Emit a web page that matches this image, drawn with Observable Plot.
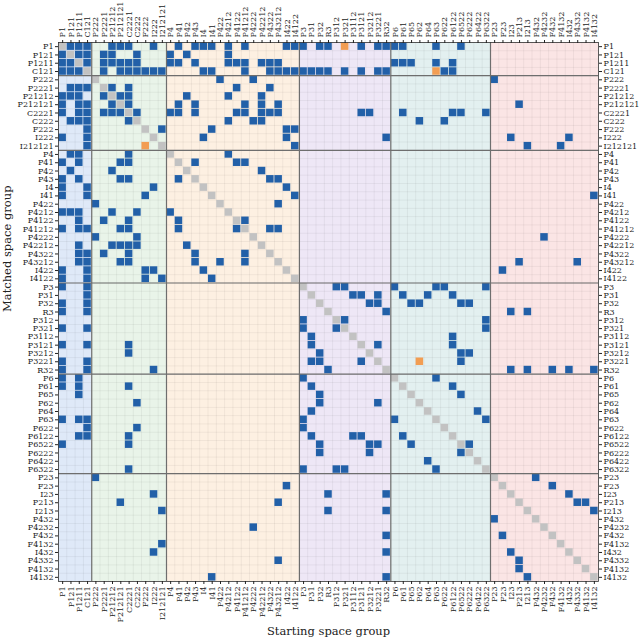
<!DOCTYPE html>
<html>
<head>
<meta charset="utf-8">
<script src="https://cdn.jsdelivr.net/npm/d3@7"></script>
<script src="https://cdn.jsdelivr.net/npm/@observablehq/plot@0.6"></script>
<style>
  html, body { margin: 0; padding: 0; background: #fff; }
  #chart svg { display: block; }
</style>
</head>
<body>
<div id="chart"></div>
<script>
// Space groups in axis order
const groups = ["P1","P121","P1211","C121","P222","P2221","P21212","P212121","C2221","C222","F222","I222","I212121",
  "P4","P41","P42","P43","I4","I41","P422","P4212","P4122","P41212","P4222","P42212","P4322","P43212","I422","I4122",
  "P3","P31","P32","R3","P312","P321","P3112","P3121","P3212","P3221","R32",
  "P6","P61","P65","P62","P64","P63","P622","P6122","P6522","P6222","P6422","P6322",
  "P23","F23","I23","P213","I213","P432","P4232","F432","F4132","I432","P4332","P4132","I4132"];

// Crystal-system blocks (count of groups in each) and their band colours
const systemSizes = [4, 9, 16, 11, 12, 13];
const systemColors = ["#dfe9f8", "#e9f4e9", "#fdf0e2", "#eee7f6", "#e3f0f0", "#fbe5e5"];

// Blue cells: matched space group -> starting space groups
const blueMatches = [
  ["P1", "P121 P1211 C121 P21212 P212121 C2221 I222 P41 P43 I4 I41 P4212 P41212 I422 I4122 P3 P32 R3 P3121 P3221 R32 P6 P61 P63 P6522"],
  ["P121", "P1 P1211 C121 P2221 P21212 C222 P4 P42 P4212"],
  ["P1211", "P1 P121 C121 P2221 P21212 P212121 C2221 C222 P4 P41 P43 P4212 P4122 P41212 P42212 P4322 P43212 P6 P61 P65 P63 P6122"],
  ["C121", "P1 P121 P1211 P2221 P212121 C2221 C222 F222 I222 I212121 I4 I41 P41212 P4322 P43212 I422 I4122 P3 P31 P32 R3 P321 P3121 P3221 R32 P622 P6122"],
  ["P222", "P422 P4222 P23"],
  ["P2221", "P121 P1211 C121 P21212 C2221 P4122 P4322"],
  ["P21212", "P1 P121 P1211 P2221 P212121 C2221 P42 P4212 P42212"],
  ["P212121", "P1 P1211 C121 P21212 C2221 P41 P43 P41212 P42212 P43212 P213"],
  ["C2221", "P1 P1211 C121 P2221 P21212 P212121 C222 P4 P41 P43 P4122 P41212 P42212 P4322 P43212 P3121 P3212 P61 P6122 P6522 P6322"],
  ["C222", "P121 P1211 C121 C2221 P4212 P4222 P42212 P62 P622"],
  ["F222", "C121 I212121 I41 I422 I4122"],
  ["I222", "P1 C121 I4 I422 R32 I23 I432"],
  ["I212121", "C121 I4122 I213 F4132"],
  ["P4", "P121 P1211 C2221 P4212"],
  ["P41", "P1 P1211 P212121 C2221 P43 P4122 P41212"],
  ["P42", "P121 P21212 P42212"],
  ["P43", "P1 P1211 P212121 C2221 P41 P4322 P43212"],
  ["I4", "P1 C121 I222 I422"],
  ["I41", "P1 C121 F222 I4122 I4132"],
  ["P422", "P222 P43212"],
  ["P4212", "P1 P121 P1211 P21212 C222 P4"],
  ["P4122", "P1211 P2221 C2221 P41 P41212"],
  ["P41212", "P1 P1211 C121 P212121 C2221 P41 P4122 P4322 P43212"],
  ["P4222", "P222 C222 P4232"],
  ["P42212", "P1211 P21212 P212121 C2221 C222 P42"],
  ["P4322", "P1211 C121 P2221 C2221 P43 P41212"],
  ["P43212", "P1211 C121 P212121 C2221 P43 P422 P41212 P213 P4332"],
  ["I422", "P1 C121 F222 I222 I4 F23"],
  ["I4122", "P1 C121 F222 I212121 I41"],
  ["P3", "P1 C121 P312 P321 P6 P63 P622 P6322"],
  ["P31", "C121 P3112 P3121 P3221 P61 P64 P6122"],
  ["P32", "P1 C121 P3212 P3221 P65 P62 P6522 P6222"],
  ["R3", "P1 C121 R32 I23 I213"],
  ["P312", "P3 P321 P6322"],
  ["P321", "P1 C121 P3 P312 P6322"],
  ["P3112", "P31 P6122"],
  ["P3121", "P1 C121 C2221 P31 P3221 P6122"],
  ["P3212", "C2221 P32 P6522 P6222"],
  ["P3221", "P1 C121 P31 P32 P3121 P6522"],
  ["R32", "P1 C121 I222 R3 I23 I213 F432 I432 I4132"],
  ["P6", "P1 P1211 P3 P63"],
  ["P61", "P1 P1211 C2221 P31 P6122"],
  ["P65", "P1211 P32 P6522"],
  ["P62", "C222 P32 P3221"],
  ["P64", "P31 P6422"],
  ["P63", "P1 P1211 C121 P3 P6 P6322"],
  ["P622", "C121 C222 P3"],
  ["P6122", "P1211 C121 C2221 P31 P3112 P3121 P61"],
  ["P6522", "P1 C2221 P32 P3212 P3221 P65 P6222"],
  ["P6222", "P32 P3212 P6522"],
  ["P6422", "P64"],
  ["P6322", "C2221 P3 P312 P321 P63"],
  ["P23", "P222 P432"],
  ["F23", "I422 F432"],
  ["I23", "I222 R3 R32 I432"],
  ["P213", "P212121 P43212 P4332 P4132"],
  ["I213", "I212121 R3 R32 I4132"],
  ["P432", "P23"],
  ["P4232", "P4222"],
  ["F432", "R32 F23"],
  ["F4132", "I212121"],
  ["I432", "I222 R32 I23"],
  ["P4332", "P43212 P213"],
  ["P4132", "P213"],
  ["I4132", "I41 R32 I213"]
];

// Orange cells: [matched, starting]
const orangeMatches = [["P1", "P321"], ["C121", "P63"], ["I212121", "F222"], ["P3221", "P62"]];

// ---- derived tables ----
const n = groups.length;
const idx = new Map(groups.map((g, i) => [g, i]));
const blueCells = blueMatches.flatMap(([m, s]) => s.split(" ").map(st => ({r: idx.get(m), c: idx.get(st)})));
const orangeCells = orangeMatches.map(([m, s]) => ({r: idx.get(m), c: idx.get(s)}));
const diagCells = groups.map((g, i) => ({r: i, c: i}));
const starts = d3.cumsum([0, ...systemSizes]);
const bands = systemSizes.map((s, k) => ({x1: starts[k], x2: starts[k] + s, fill: systemColors[k]}));
const innerBounds = Array.from(starts).slice(1, -1);
const edges = d3.range(n + 1);
const centers = groups.map((g, i) => i + 0.5);
const fmt = d => groups[Math.floor(d)];

const cellOpts = {x1: "c", x2: d => d.c + 1, y1: "r", y2: d => d.r + 1, inset: 0.4};
const FS = 8;

const chart = Plot.plot({
  width: 640,
  height: 639,
  marginLeft: 58,
  marginRight: 42,
  marginTop: 42,
  marginBottom: 58,
  style: {fontFamily: "'DejaVu Serif', serif", fontSize: FS + "px", background: "#fff", color: "#222"},
  x: {domain: [0, n], axis: null},
  y: {domain: [n, 0], axis: null},
  marks: [
    Plot.rect(bands, {x1: "x1", x2: "x2", y1: () => 0, y2: () => n, fill: "fill"}),
    Plot.ruleX(edges, {stroke: "#000", strokeOpacity: 0.08, strokeWidth: 0.7}),
    Plot.ruleY(edges, {stroke: "#000", strokeOpacity: 0.08, strokeWidth: 0.7}),
    Plot.rect(diagCells, {...cellOpts, fill: "#c2c2c2"}),
    Plot.rect(blueCells, {...cellOpts, fill: "#2260a8"}),
    Plot.rect(orangeCells, {...cellOpts, fill: "#f29d52"}),
    Plot.ruleX(innerBounds, {stroke: "#6e6e6e", strokeWidth: 1.2}),
    Plot.ruleY(innerBounds, {stroke: "#6e6e6e", strokeWidth: 1.2}),
    Plot.frame({stroke: "#333", strokeWidth: 0.8}),
    Plot.axisX(centers, {anchor: "top", tickFormat: fmt, tickRotate: -90, tickSize: 3, tickPadding: 2, label: null, fontSize: FS}),
    Plot.axisX(centers, {anchor: "bottom", tickFormat: fmt, tickRotate: -90, tickSize: 3, tickPadding: 2, label: null, fontSize: FS}),
    Plot.axisY(centers, {anchor: "left", tickFormat: fmt, tickSize: 3, tickPadding: 2, label: null, fontSize: FS}),
    Plot.axisY(centers, {anchor: "right", tickFormat: fmt, tickSize: 3, tickPadding: 2, label: null, fontSize: FS}),
    Plot.text(["Starting space group"], {frameAnchor: "bottom", dy: 53, fontSize: 11.5, fill: "#222"}),
    Plot.text(["Matched space group"], {frameAnchor: "left", dx: -51, rotate: -90, fontSize: 11.5, fill: "#222"})
  ]
});
document.getElementById("chart").appendChild(chart);
</script>
</body>
</html>
